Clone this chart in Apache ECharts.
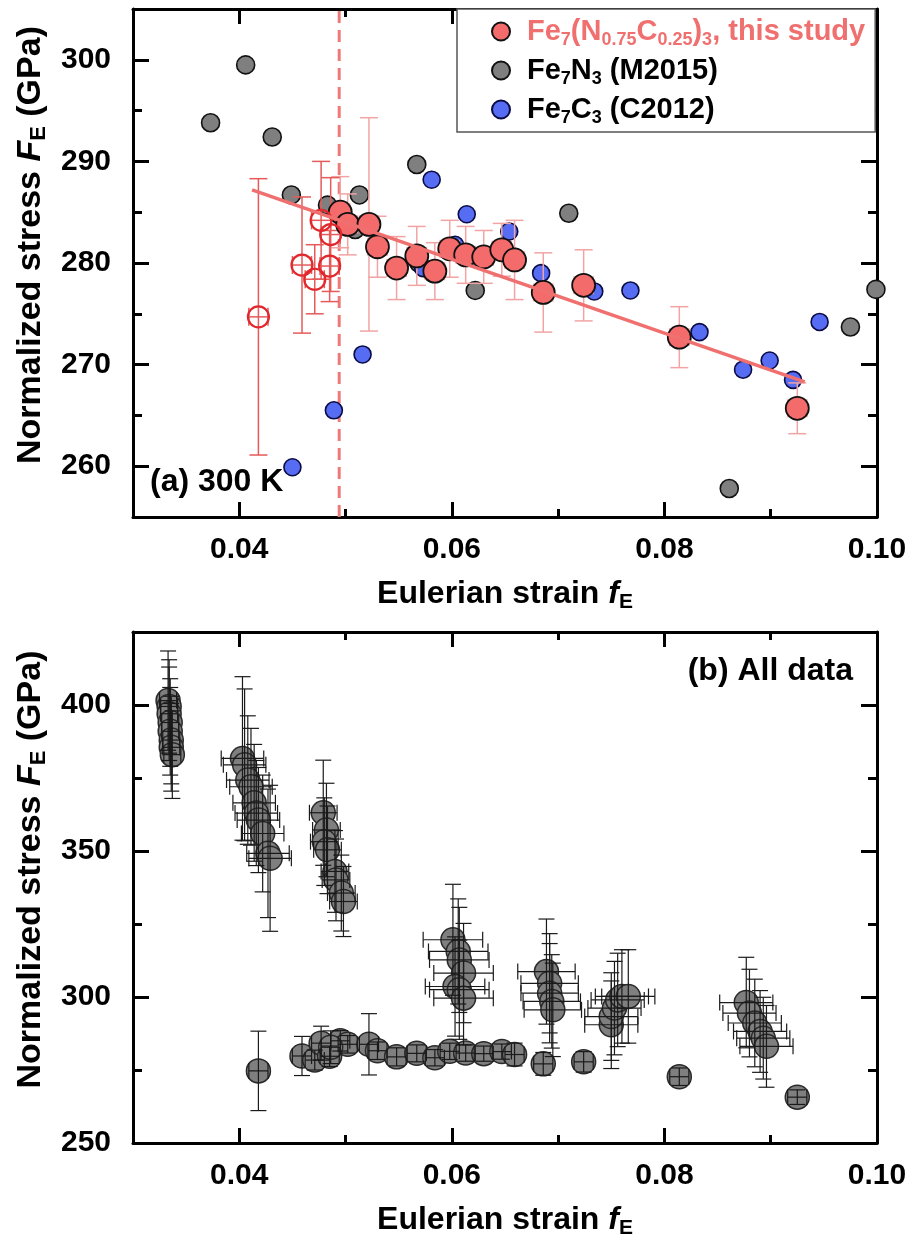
<!DOCTYPE html>
<html><head><meta charset="utf-8">
<script src="https://cdn.jsdelivr.net/npm/echarts@6/dist/echarts.min.js"></script>
<style>html,body{margin:0;padding:0;background:#fff}#c{width:912px;height:1247px}</style>
</head><body><div id="c"></div>
<script>
const FONT = '"Liberation Sans", Arial, sans-serif';

// ---- Panel (a) 300 K : this study, filled symbols ----
const studyX   = [0.0495,0.0502,0.0522,0.0530,0.0548,0.0567,0.0584,0.0598,0.0613,0.0630,0.0647,0.0659,0.0686,0.0724,0.0814,0.0925];
const studyY   = [285.0,283.8,283.8,281.6,279.5,280.7,279.2,281.4,280.8,280.6,281.3,280.3,277.1,277.8,272.7,265.7];
const studyErr = [3.5,3.0,10.5,3.0,3.1,2.9,2.8,2.8,2.8,2.6,2.6,3.9,3.9,3.5,3.0,2.5];
const studyXErr = 0.0009;

// this study, open symbols (below the cut-off strain)
const openX   = [0.0418,0.0459,0.0471,0.0477,0.0485,0.0486];
const openY   = [274.7,279.8,278.4,284.2,279.7,282.8];
const openErr = [13.6,6.7,3.4,5.8,3.5,5.6];

// Fe7N3 (M2015)
const m2015X = [0.0373,0.0406,0.0431,0.0449,0.0483,0.0509,0.0513,0.0567,0.0569,0.0582,0.0622,0.0710,0.0861,0.0975,0.0999];
const m2015Y = [293.8,299.5,292.4,286.7,285.7,283.3,286.7,289.7,280.0,279.0,277.3,284.9,257.8,273.7,277.4];

// Fe7C3 (C2012)
const c2012X = [0.0450,0.0489,0.0516,0.0573,0.0581,0.0603,0.0614,0.0654,0.0659,0.0684,0.0734,0.0768,0.0833,0.0874,0.0899,0.0921,0.0946];
const c2012Y = [259.9,265.5,271.0,279.5,288.2,281.8,284.8,283.1,280.6,279.0,277.2,277.3,273.2,269.5,270.4,268.5,274.2];

// linear fit and cut-off strain
const fitX = [0.0412, 0.0932];
const fitY = [287.2, 268.3];
const cutoffX = 0.0494;

// ---- Panel (b) all data : high P-T clusters ----
const hpX = [0.0333,0.0334,0.0334,0.0335,0.0335,0.0336,0.0336,0.0337,
             0.0403,0.0405,0.0408,0.0411,0.0414,0.0416,0.0418,0.0422,0.0427,0.0429,
             0.0479,0.0482,0.0480,0.0483,0.0490,0.0491,0.0496,0.0498,
             0.0601,0.0606,0.0607,0.0611,0.0603,0.0607,0.0611,
             0.0689,0.0692,0.0692,0.0694,0.0695,
             0.0750,0.0750,0.0753,0.0756,0.0760,0.0766,
             0.0877,0.0880,0.0885,0.0890,0.0893,0.0896];
const hpY = [401.5,399.5,397,394,391,388,385.5,383,
             381.7,379.5,374.3,372,366.5,363,360.6,356,349.2,347.5,
             363.1,357.2,353.2,350.4,343,340.1,335.6,332.7,
             319.6,315.6,312.7,308.2,303.6,302.5,299.6,
             308.7,304.7,301.3,298.5,295.6,
             290.5,293.3,296.2,299,300.2,300.2,
             298.1,294.5,291.1,288.2,285.9,283.1];
const hpYErr = [17,16,16,15,15,15,15,15,
                28,26,22,20,20,18,18,20,22,25,
                18,16,15,15,14,14,13,12,
                19,18,18,17,17,17,16,
                18,17,17,16,16,
                15,15,16,16,16,16,
                15.5,15,15,14,14,14];
const hpXErr = [0.0008,0.0008,0.0008,0.0008,0.0008,0.0008,0.0008,0.0008,
                0.002,0.002,0.002,0.002,0.002,0.002,0.002,0.002,0.002,0.002,
                0.0013,0.0013,0.0013,0.0013,0.0013,0.0013,0.0013,0.0013,
                0.0028,0.0028,0.0028,0.0028,0.0028,0.0028,0.0028,
                0.0027,0.0027,0.0027,0.0027,0.0027,
                0.0025,0.0025,0.0025,0.0025,0.0025,0.0025,
                0.0025,0.0025,0.0025,0.0025,0.0025,0.0025];

// tick labels
const xMajor = [0.04,0.06,0.08,0.10];
const xMinor = [0.05,0.07,0.09];
const yMajorA = [260,270,280,290,300];
const yMinorA = [265,275,285,295];
const yMajorB = [250,300,350,400];
const yMinorB = [275,325,375];

// series names
const NAME_STUDY = 'Fe7(N0.75C0.25)3, this study';
const NAME_M = 'Fe7N3 (M2015)';
const NAME_C = 'Fe7C3 (C2012)';
const legendRich = {};
legendRich[NAME_STUDY] = '{g|}{r|Fe}{rs|7}{r|(N}{rs|0.75}{r|C}{rs|0.25}{r|)}{rs|3}{r|, this study}';
legendRich[NAME_M] = '{g|}{n|Fe}{ns|7}{n|N}{ns|3}{n| (M2015)}';
legendRich[NAME_C] = '{g|}{n|Fe}{ns|7}{n|C}{ns|3}{n| (C2012)}';

const zip = (a,b) => a.map((v,i)=>[v,b[i]]);

const RED = '#f46b6b', BLUE = '#566cf2', GRAY = '#7f7f7f';

function errRender(color, lw, cap) {
  return function (params, api) {
    const x = api.value(0), y = api.value(1), ex = api.value(2), ey = api.value(3);
    const style = {stroke: color, lineWidth: lw, fill: null};
    const ch = [];
    if (ey > 0) {
      const t = api.coord([x, y + ey]), b = api.coord([x, y - ey]);
      ch.push({type:'line', shape:{x1:t[0],y1:t[1],x2:b[0],y2:b[1]}, style});
      ch.push({type:'line', shape:{x1:t[0]-cap,y1:t[1],x2:t[0]+cap,y2:t[1]}, style});
      ch.push({type:'line', shape:{x1:b[0]-cap,y1:b[1],x2:b[0]+cap,y2:b[1]}, style});
    }
    if (ex > 0) {
      const l = api.coord([x - ex, y]), r = api.coord([x + ex, y]);
      ch.push({type:'line', shape:{x1:l[0],y1:l[1],x2:r[0],y2:r[1]}, style});
      ch.push({type:'line', shape:{x1:l[0],y1:l[1]-cap,x2:l[0],y2:l[1]+cap}, style});
      ch.push({type:'line', shape:{x1:r[0],y1:r[1]-cap,x2:r[0],y2:r[1]+cap}, style});
    }
    return {type:'group', children: ch};
  };
}

const tickStyle = {color:'#000', width:3};
const labelStyle = {fontSize:30, fontWeight:'bold', fontFamily:FONT, color:'#000'};
const xTitleRich = {
  t:{fontSize:32, fontWeight:'bold', fontFamily:FONT, color:'#000', lineHeight:34},
  i:{fontSize:32, fontWeight:'bold', fontStyle:'italic', fontFamily:FONT, color:'#000', lineHeight:34},
  s:{fontSize:21, fontWeight:'bold', fontFamily:FONT, color:'#000', lineHeight:21, padding:[16,0,0,0]}
};
const yTitleRich = {
  t:{fontSize:34, fontWeight:'bold', fontFamily:FONT, color:'#000', lineHeight:36},
  i:{fontSize:34, fontWeight:'bold', fontStyle:'italic', fontFamily:FONT, color:'#000', lineHeight:36},
  s:{fontSize:22, fontWeight:'bold', fontFamily:FONT, color:'#000', lineHeight:22, padding:[17,0,0,0]}
};

function xAxes(grid) {
  const base = {type:'value', gridIndex:grid, min:0.03, max:0.10, interval:0.01, splitLine:{show:false}};
  return [
    Object.assign({}, base, {position:'bottom',
      axisLine:{show:true, onZero:false, lineStyle:tickStyle},
      axisTick:{show:true, inside:true, length:15, customValues:xMajor, lineStyle:tickStyle},
      axisLabel:{show:true, customValues:xMajor, formatter:v=>v.toFixed(2), margin:18, ...labelStyle},
      name:'{t|Eulerian strain }{i|f}{s|E}', nameLocation:'middle', nameGap:60,
      nameTextStyle:{rich:xTitleRich}}),
    Object.assign({}, base, {position:'bottom', axisLine:{show:false},
      axisTick:{show:true, inside:true, length:8, customValues:xMinor, lineStyle:tickStyle}, axisLabel:{show:false}}),
    Object.assign({}, base, {position:'top', axisLine:{show:true, onZero:false, lineStyle:tickStyle},
      axisTick:{show:true, inside:true, length:15, customValues:xMajor, lineStyle:tickStyle}, axisLabel:{show:false}}),
    Object.assign({}, base, {position:'top', axisLine:{show:false},
      axisTick:{show:true, inside:true, length:8, customValues:xMinor, lineStyle:tickStyle}, axisLabel:{show:false}})
  ];
}
function yAxes(grid, min, max, interval, major, minor) {
  const base = {type:'value', gridIndex:grid, min, max, interval, splitLine:{show:false}};
  return [
    Object.assign({}, base, {position:'left',
      axisLine:{show:true, onZero:false, lineStyle:tickStyle},
      axisTick:{show:true, inside:true, length:16, customValues:major, lineStyle:tickStyle},
      axisLabel:{show:true, customValues:major, margin:22, ...labelStyle},
      name:'{t|Normalized stress }{i|F}{s|E}{t| (GPa)}', nameLocation:'middle', nameGap:80,
      nameTextStyle:{rich:yTitleRich, padding:[0,0,0,36]}}),
    Object.assign({}, base, {position:'left', axisLine:{show:false},
      axisTick:{show:true, inside:true, length:9, customValues:minor, lineStyle:tickStyle}, axisLabel:{show:false}}),
    Object.assign({}, base, {position:'right', axisLine:{show:true, onZero:false, lineStyle:tickStyle},
      axisTick:{show:true, inside:true, length:16, customValues:major, lineStyle:tickStyle}, axisLabel:{show:false}}),
    Object.assign({}, base, {position:'right', axisLine:{show:false},
      axisTick:{show:true, inside:true, length:9, customValues:minor, lineStyle:tickStyle}, axisLabel:{show:false}})
  ];
}

const studyErrData = studyX.map((x,i)=>[x, studyY[i], studyXErr, studyErr[i]]);
const openErrData  = openX.map((x,i)=>[x, openY[i], studyXErr, openErr[i]]);
const allX = studyX.concat(openX, hpX);
const allY = studyY.concat(openY, hpY);
const allErrData = studyErrData.concat(openErrData, hpX.map((x,i)=>[x, hpY[i], hpXErr[i], hpYErr[i]]));

const chart = echarts.init(document.getElementById('c'), null, {renderer:'canvas'});
chart.setOption({
  animation:false,
  backgroundColor:'#fff',
  grid:[{left:133, top:9, width:744, height:508}, {left:133, top:632, width:744, height:511}],
  xAxis: xAxes(0).concat(xAxes(1)),
  yAxis: yAxes(0,255,305,5,yMajorA,yMinorA).concat(yAxes(1,250,425,25,yMajorB,yMinorB)),
  legend:{
    data:[NAME_STUDY, NAME_M, NAME_C],
    orient:'vertical', left:457, top:9,
    backgroundColor:'#fff', borderColor:'#555', borderWidth:1.5, borderRadius:0,
    padding:[5,10,5,34], itemWidth:18, itemHeight:18, itemGap:4,
    selectedMode:false,
    formatter: n => legendRich[n],
    textStyle:{fontSize:29, fontWeight:'bold', fontFamily:FONT, color:'#000',
      rich:{
        g:{width:12},
        n:{fontSize:29, fontWeight:'bold', fontFamily:FONT, color:'#000', lineHeight:32},
        ns:{fontSize:18, fontWeight:'bold', fontFamily:FONT, color:'#000', lineHeight:18, padding:[17,0,0,0]},
        r:{fontSize:29, fontWeight:'bold', fontFamily:FONT, color:'#f07070', lineHeight:32},
        rs:{fontSize:18, fontWeight:'bold', fontFamily:FONT, color:'#f07070', lineHeight:18, padding:[17,0,0,0]}
      }}
  },
  graphic:[
    {type:'text', left:150, top:466, z:100, style:{text:'(a) 300 K', font:'bold 32px "Liberation Sans", Arial', fill:'#000'}},
    {type:'text', right:59, top:655, z:100, style:{text:'(b) All data', font:'bold 32px "Liberation Sans", Arial', fill:'#000'}}
  ],
  series:[
    {type:'line', name:'cutoff', xAxisIndex:0, yAxisIndex:0, data:[[cutoffX,255],[cutoffX,305]], symbol:'none',
      lineStyle:{color:'#f07878', width:3, type:[12,7]}, z:1, silent:true},
    {type:'scatter', name:NAME_M, xAxisIndex:0, yAxisIndex:0, data:zip(m2015X,m2015Y), symbolSize:18,
      itemStyle:{color:GRAY, borderColor:'#111', borderWidth:1.6, opacity:1}, z:2},
    {type:'scatter', name:NAME_C, xAxisIndex:0, yAxisIndex:0, data:zip(c2012X,c2012Y), symbolSize:17,
      itemStyle:{color:BLUE, borderColor:'#0b0b45', borderWidth:1.6, opacity:1}, z:3},
    {type:'custom', name:'errA', xAxisIndex:0, yAxisIndex:0, data:studyErrData, renderItem:errRender('#f2a4a4',1.5,9),
      encode:{x:0,y:1}, z:4, silent:true},
    {type:'custom', name:'errOpen', xAxisIndex:0, yAxisIndex:0, data:openErrData, renderItem:errRender('#e65a5a',1.5,9),
      encode:{x:0,y:1}, z:4, silent:true},
    {type:'scatter', name:NAME_STUDY, xAxisIndex:0, yAxisIndex:0, data:zip(studyX,studyY), symbolSize:23,
      itemStyle:{color:RED, borderColor:'#111', borderWidth:1.8, opacity:1}, z:5},
    {type:'scatter', name:'open', xAxisIndex:0, yAxisIndex:0, data:zip(openX,openY), symbolSize:21,
      itemStyle:{color:'rgba(255,255,255,0)', borderColor:'#e0282d', borderWidth:2.2, opacity:1}, z:5},
    {type:'line', name:'fit', xAxisIndex:0, yAxisIndex:0, data:zip(fitX,fitY), symbol:'none',
      lineStyle:{color:'#f07070', width:3.5}, z:6, silent:true},
    {type:'scatter', name:'all', xAxisIndex:4, yAxisIndex:4, data:zip(allX,allY), symbolSize:24,
      itemStyle:{color:GRAY, borderColor:'#2a2a2a', borderWidth:1.5, opacity:1}, z:2},
    {type:'custom', name:'errAll', xAxisIndex:4, yAxisIndex:4, data:allErrData, renderItem:errRender('#1a1a1a',1.2,8),
      encode:{x:0,y:1}, z:3, silent:true}
  ]
});
</script></body></html>
